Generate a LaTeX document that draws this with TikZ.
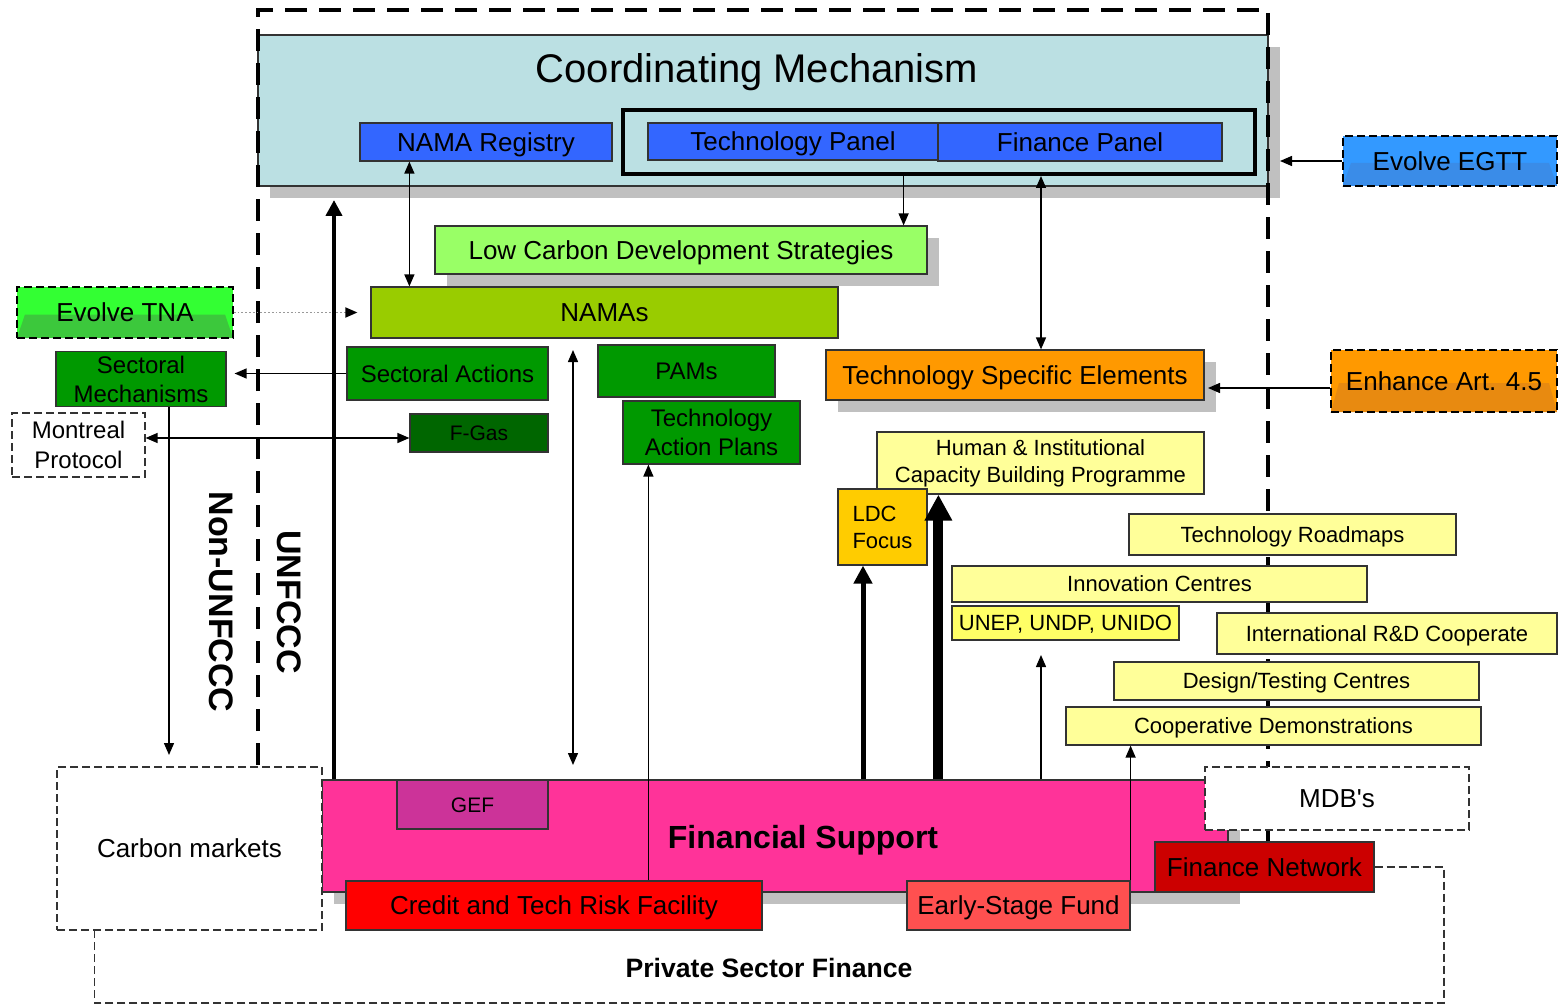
\documentclass[tikz,border=0pt]{standalone}
\usepackage{fontspec}
\setmainfont{Liberation Sans}
\usepackage{tikz}
\usetikzlibrary{arrows.meta, shadows}

\definecolor{cmblue}{HTML}{BBE0E3}
\definecolor{panelblue}{HTML}{3366FF}
\definecolor{egttblue}{HTML}{3399FF}
\definecolor{egttdark}{HTML}{3A8CE8}
\definecolor{lcdsgreen}{HTML}{99FF66}
\definecolor{namagreen}{HTML}{99CC00}
\definecolor{tnagreen}{HTML}{33FF33}
\definecolor{tnadark}{HTML}{3CC83C}
\definecolor{actgreen}{HTML}{009900}
\definecolor{gasgreen}{HTML}{006600}
\definecolor{tseorange}{HTML}{FF9900}
\definecolor{artdark}{HTML}{E88A10}
\definecolor{paleyellow}{HTML}{FFFF99}
\definecolor{unyellow}{HTML}{FFFF66}
\definecolor{ldcyellow}{HTML}{FFCC00}
\definecolor{fspink}{HTML}{FF3399}
\definecolor{gefpurple}{HTML}{CC3399}
\definecolor{creditred}{HTML}{FF0000}
\definecolor{earlyred}{HTML}{FF5050}
\definecolor{netred}{HTML}{CC0000}
\definecolor{shadowgray}{HTML}{C0C0C0}
\definecolor{edgegray}{HTML}{333333}

\begin{document}
\begin{tikzpicture}[x=0.5pt, y=-0.5pt,
  >={Triangle[length=6pt,width=5pt]},
  box/.style={draw=edgegray, line width=0.6pt, inner sep=0pt, align=center,
    font=\fontsize{13}{15}\selectfont, text height=11.9pt, text depth=2.6pt},
  shade box/.style={box, drop shadow={shadow xshift=6pt, shadow yshift=-6pt,
    fill=shadowgray, draw=none, opacity=1}},
  dashbox/.style={box, dash pattern=on 4pt off 2pt, fill=white},
  evolvebox/.style={box, draw=black, line width=0.8pt, dash pattern=on 4pt off 2pt},
  bevel/.style={path picture={\fill[#1] (path picture bounding box.south west)
      -- ([xshift=4pt,yshift=-1pt]path picture bounding box.west)
      -- ([xshift=-4pt,yshift=-1pt]path picture bounding box.east)
      -- (path picture bounding box.south east) -- cycle;}},
  smallfont/.style={font=\fontsize{11}{13.5}\selectfont, text height=10.1pt, text depth=2.2pt},
  greenfont/.style={font=\fontsize{12}{14.5}\selectfont, text height=11pt, text depth=2.4pt},
  tinyfont/.style={font=\fontsize{10.5}{12}\selectfont, text height=9.6pt, text depth=2.1pt},
  twolines/.style={text height={}, text depth={}},
  frameline/.style={line width=2pt, dash pattern=on 11pt off 6pt}
]
\useasboundingbox (0,0) rectangle (1560,1006);

% coordinating mechanism
\node[shade box, fill=cmblue, minimum width=505pt, minimum height=75.5pt] (coord) at (763,110.5) {};
\node[font=\fontsize{20}{24}\selectfont, text height=18.3pt, text depth=4pt] (cmtitle) at (757,68) {Coordinating Mechanism};

% UNFCCC frame
\draw[frameline] (258,765) -- (258,10) -- (1268,10) -- (1268,870);

\node[draw=black, line width=2pt, minimum width=316pt, minimum height=32pt] (panels) at (939,142) {};
\node[box, fill=panelblue, minimum width=126pt, minimum height=19pt] (namareg) at (486,142) {NAMA Registry};
\node[box, fill=panelblue, minimum width=145pt, minimum height=18.5pt] (techpanel) at (793,141.5) {Technology Panel};
\node[box, fill=panelblue, minimum width=142pt, minimum height=19pt] (finpanel) at (1080,142) {Finance Panel};

\node[evolvebox, fill=egttblue, bevel=egttdark, minimum width=107pt, minimum height=25pt] (egtt) at (1450,161) {Evolve EGTT};

\node[shade box, fill=lcdsgreen, minimum width=246pt, minimum height=24pt] (lcds) at (681,250) {Low Carbon Development Strategies};
\node[box, fill=namagreen, minimum width=233.5pt, minimum height=25.5pt] (namas) at (604.5,312.5) {NAMAs};
\node[evolvebox, fill=tnagreen, bevel=tnadark, minimum width=108pt, minimum height=25.5pt] (tna) at (125,312.5) {Evolve TNA};

\node[box, greenfont, twolines, fill=actgreen, minimum width=85pt, minimum height=27.5pt] (secmech) at (141,379) {Sectoral\\Mechanisms};
\node[box, greenfont, fill=actgreen, minimum width=100.5pt, minimum height=26.5pt] (secact) at (447.5,373.5) {Sectoral Actions};
\node[dashbox, twolines, font=\fontsize{12}{15}\selectfont, minimum width=66.5pt, minimum height=32pt] (montreal) at (78.5,445) {Montreal\\Protocol};
\node[box, tinyfont, fill=gasgreen, minimum width=69pt, minimum height=19pt] (fgas) at (479,433) {F-Gas};
\node[box, greenfont, fill=actgreen, minimum width=88.5pt, minimum height=26pt] (pams) at (686.5,371) {PAMs};
\node[box, greenfont, twolines, fill=actgreen, minimum width=88.5pt, minimum height=31.5pt] (tap) at (711.5,432.5) {Technology\\Action Plans};

\node[shade box, fill=tseorange, minimum width=189pt, minimum height=25pt] (tse) at (1015,375) {Technology Specific Elements};
\node[evolvebox, fill=tseorange, bevel=artdark, minimum width=113pt, minimum height=31pt] (art45) at (1444,381) {Enhance Art. 4.5};

\node[box, smallfont, twolines, fill=paleyellow, minimum width=163.5pt, minimum height=31pt] (hicbp) at (1040.5,463) {Human \& Institutional\\Capacity Building Programme};
\node[box, smallfont, twolines, align=left, fill=ldcyellow, minimum width=44.5pt, minimum height=38pt] (ldc) at (882.5,527) {LDC\\Focus};
\node[box, smallfont, fill=paleyellow, minimum width=163.5pt, minimum height=20.5pt] (roadmaps) at (1292.5,534.5) {Technology Roadmaps};
\node[box, smallfont, fill=paleyellow, minimum width=207.5pt, minimum height=18pt] (innov) at (1159.5,584) {Innovation Centres};
\node[box, smallfont, fill=unyellow, minimum width=113.5pt, minimum height=17pt] (unep) at (1065.5,623) {UNEP, UNDP, UNIDO};
\node[box, smallfont, fill=paleyellow, minimum width=170pt, minimum height=20.5pt] (rnd) at (1387,633.5) {International R\&D Cooperate};
\node[box, smallfont, fill=paleyellow, minimum width=182.5pt, minimum height=19pt] (design) at (1296.5,681) {Design/Testing Centres};
\node[box, smallfont, fill=paleyellow, minimum width=207.5pt, minimum height=19pt] (coopdem) at (1273.5,726) {Cooperative Demonstrations};

% financial support
\node[shade box, fill=fspink, minimum width=453pt, minimum height=56pt] (finsup) at (775,836) {};
\node[font=\bfseries\fontsize{16}{19}\selectfont, text height=14.7pt, text depth=3.2pt] (fstext) at (803,837) {Financial Support};
\node[box, tinyfont, fill=gefpurple, minimum width=75.5pt, minimum height=24.5pt] (gef) at (472.5,804.5) {GEF};
\node[box, fill=creditred, minimum width=208pt, minimum height=24.5pt] (credit) at (554,905.5) {Credit and Tech Risk Facility};
\node[box, fill=earlyred, minimum width=111.5pt, minimum height=24.5pt] (early) at (1018.5,905.5) {Early-Stage Fund};
\node[dashbox, minimum width=132pt, minimum height=31.5pt] (mdb) at (1337,798.5) {MDB\textquotesingle s};
\node[box, fill=netred, minimum width=109.5pt, minimum height=25pt] (finnet) at (1264.5,867) {Finance Network};
\node[dashbox, minimum width=132.5pt, minimum height=81.5pt] (carbon) at (189.5,848.5) {Carbon markets};

% private sector finance
\coordinate (pscorner) at (1444,1003);
\draw[edgegray, line width=0.6pt, dash pattern=on 4pt off 2pt] (finnet.east) -| (pscorner) -| ([xshift=19pt]carbon.south west);
\node[font=\bfseries\fontsize{13.3}{16}\selectfont, text height=12.2pt, text depth=2.7pt] (psf) at (769,968) {Private Sector Finance};

\node[rotate=-90, font=\bfseries\fontsize{17}{20}\selectfont, text height=15.6pt, text depth=3.4pt] (nonun) at (222,602) {Non-UNFCCC};
\node[rotate=-90, font=\bfseries\fontsize{17}{20}\selectfont, text height=15.6pt, text depth=3.4pt] (unfccc) at (290,602) {UNFCCC};

% connectors
\coordinate (nrdown) at ([xshift=25pt]namareg.south west);
\coordinate (tpdown) at ([xshift=-17.5pt]techpanel.south east);
\coordinate (fpdown) at ([xshift=-19.5pt]finpanel.south);
\draw[line width=0.7pt, <->] (nrdown) -- (nrdown |- namas.north);
\draw[line width=0.7pt, ->] (tpdown |- panels.south) -- (tpdown |- lcds.north);
\draw[line width=0.7pt, <->] (fpdown |- panels.south) -- (fpdown |- tse.north);

\coordinate (egttin) at (1280,161);
\draw[line width=0.7pt, ->] (egtt.west) -- (egttin);
\draw[densely dotted, gray!80, line width=0.9pt, -{Triangle[length=6pt,width=5pt,black]}] (tna.east) -- ([xshift=-6.5pt]namas.west);

\coordinate (smin) at ([xshift=4pt]secmech.east);
\draw[line width=0.7pt, ->] (secact.west) -- (secact.west -| smin);
\coordinate (fgin) at ([yshift=-2.5pt]fgas.west);
\draw[line width=0.7pt, <->] (montreal.east |- fgin) -- (fgin);
\coordinate (cmin) at (169,755);
\draw[line width=0.7pt, ->] (secmech.south -| cmin) -- (cmin);

\coordinate (fsup) at (573,350);
\coordinate (fsdown) at (573,765);
\draw[line width=0.7pt, <->] (fsup) -- (fsdown);

\coordinate (unin) at (334,200);
\draw[line width=2pt, -{Triangle[length=8pt,width=8pt]}] (unin |- finsup.north) -- (unin);

\coordinate (tapin) at ([xshift=13pt]tap.south west);
\draw[line width=0.7pt, ->] (tapin |- credit.north) -- (tapin);

\coordinate (ldcin) at ([xshift=-9.75pt]ldc.south);
\draw[line width=2.5pt, -{Triangle[length=9pt,width=9pt]}] (ldcin |- finsup.north) -- (ldcin);
\coordinate (hicin) at ([xshift=31pt]hicbp.south west);
\draw[line width=5pt, -{Triangle[length=13pt,width=13pt]}] (hicin |- finsup.north) -- (hicin);

\coordinate (unepin) at (1041,655);
\draw[line width=0.7pt, ->] (unepin |- finsup.north) -- (unepin);
\draw[line width=0.7pt, ->] (early.north east) -- (early.north east |- coopdem.south);

\coordinate (tsein) at (1208,388);
\draw[line width=0.7pt, ->] (art45.west |- tsein) -- (tsein);

\end{tikzpicture}
\end{document}
